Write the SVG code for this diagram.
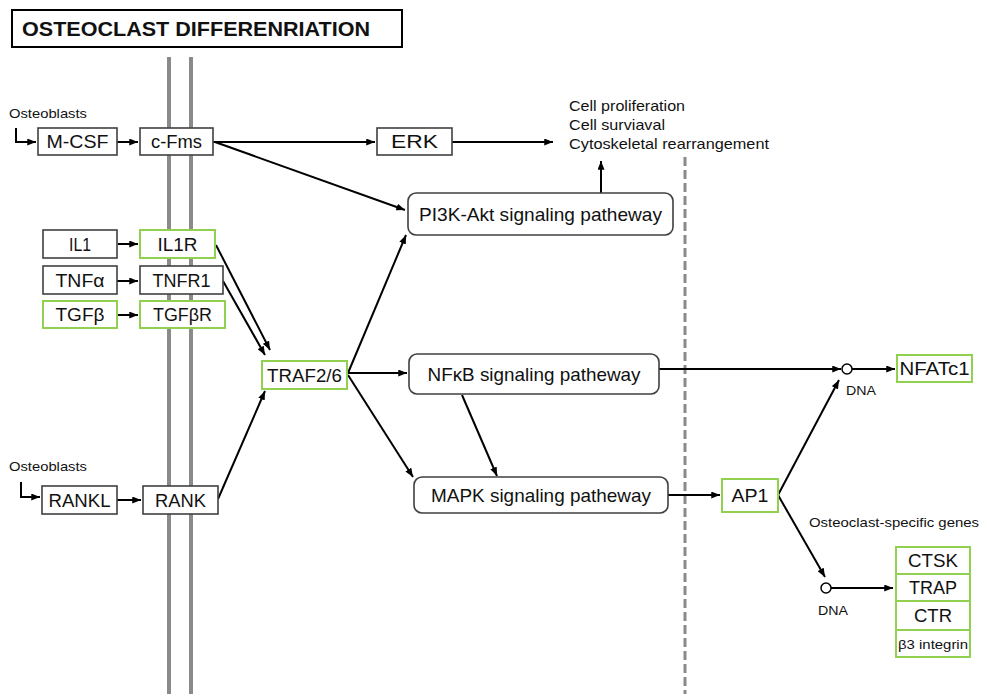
<svg xmlns="http://www.w3.org/2000/svg" width="981" height="694" viewBox="0 0 981 694">
<style>
text{font-family:"Liberation Sans",Arial,sans-serif;fill:#111}
.lbl{font-size:18px;text-anchor:middle}
.pw{font-size:19px;text-anchor:middle}
.sm{font-size:13.5px}
.box{fill:#fff;stroke:#404040;stroke-width:1.6}
.gbox{fill:#fff;stroke:#92d050;stroke-width:2}
.rbox{fill:#fff;stroke:#404040;stroke-width:1.6}
.mem{stroke:#8a8a8a;stroke-width:4}
.ed{fill:none;stroke:#000;stroke-width:2;marker-end:url(#ah)}
</style>
<defs>
<marker id="ah" viewBox="0 0 10 8" refX="10" refY="4" markerWidth="9" markerHeight="7" orient="auto" markerUnits="userSpaceOnUse"><path d="M0,0 L10,4 L0,8 z" fill="#000"/></marker>
</defs>
<rect width="981" height="694" fill="#fff"/>
<g id="title">
<rect x="12" y="10" width="390" height="37" fill="#fff" stroke="#000" stroke-width="2"/>
<text x="22" y="36" font-size="21" font-weight="bold" textLength="348" lengthAdjust="spacingAndGlyphs">OSTEOCLAST DIFFERENRIATION</text>
</g>
<g id="membrane">
<line class="mem" x1="169" y1="57" x2="169" y2="694"/>
<line class="mem" x1="191" y1="57" x2="191" y2="694"/>
<line x1="685" y1="157" x2="685" y2="694" stroke="#8a8a8a" stroke-width="3" stroke-dasharray="9,4"/>
</g>
<g id="connectors">
<path class="ed" d="M16,128 V142 H36"/>
<path class="ed" d="M117,142 H138"/>
<path class="ed" d="M213,142 H375"/>
<path class="ed" d="M452,142 H553"/>
<path class="ed" d="M215,142 L405,210"/>
<path class="ed" d="M601,193 V161"/>
<path class="ed" d="M118,244 H138"/>
<path class="ed" d="M117,281 H138"/>
<path class="ed" d="M118,315 H138"/>
<path class="ed" d="M216,245 L270,350"/>
<path class="ed" d="M223,281 L265,355"/>
<path class="ed" d="M21,482 V497 H40"/>
<path class="ed" d="M117,500 H141"/>
<path class="ed" d="M218,499 L265,391"/>
<path class="ed" d="M348,373 L406,235"/>
<path class="ed" d="M348,373 H407"/>
<path class="ed" d="M348,375 L413,477"/>
<path class="ed" d="M462,395 L497,476"/>
<path class="ed" d="M668,495 H720"/>
<path class="ed" d="M659,369 H841"/>
<path class="ed" d="M852,369 H895"/>
<path class="ed" d="M778,495 L839,380"/>
<path class="ed" d="M778,495 L825,577"/>
<path class="ed" d="M831,588 H893"/>
</g>
<g id="osteoblasts1"><text class="sm" x="9" y="118" textLength="78" lengthAdjust="spacingAndGlyphs">Osteoblasts</text></g>
<g id="mcsf"><rect class="box" x="38" y="128" width="79" height="27"/><text class="lbl" x="77.5" y="148" textLength="62" lengthAdjust="spacingAndGlyphs">M-CSF</text></g>
<g id="cfms"><rect class="box" x="140" y="128" width="73" height="27"/><text class="lbl" x="176.5" y="148" textLength="51" lengthAdjust="spacingAndGlyphs">c-Fms</text></g>
<g id="erk"><rect class="box" x="377" y="128" width="75" height="27"/><text class="lbl" x="414.5" y="148" textLength="47" lengthAdjust="spacingAndGlyphs">ERK</text></g>
<g id="outcomes">
<text x="569" y="111" font-size="15" textLength="116" lengthAdjust="spacingAndGlyphs">Cell proliferation</text>
<text x="569" y="130" font-size="15" textLength="96" lengthAdjust="spacingAndGlyphs">Cell surviaval</text>
<text x="569" y="149" font-size="15" textLength="200" lengthAdjust="spacingAndGlyphs">Cytoskeletal rearrangement</text>
</g>
<g id="pi3k"><rect class="rbox" x="408" y="193" width="265" height="42" rx="8"/><text class="pw" x="540.5" y="221" textLength="243" lengthAdjust="spacingAndGlyphs">PI3K-Akt signaling patheway</text></g>
<g id="il1"><rect class="box" x="43" y="230" width="74" height="28"/><text class="lbl" x="80" y="251" textLength="22" lengthAdjust="spacingAndGlyphs">IL1</text></g>
<g id="il1r"><rect class="gbox" x="140" y="230" width="75" height="28"/><text class="lbl" x="177.5" y="251" textLength="40" lengthAdjust="spacingAndGlyphs">IL1R</text></g>
<g id="tnfa"><rect class="box" x="43" y="266" width="74" height="28"/><text class="lbl" x="80" y="287" textLength="49" lengthAdjust="spacingAndGlyphs">TNFα</text></g>
<g id="tnfr1"><rect class="box" x="140" y="266" width="83" height="28"/><text class="lbl" x="181.5" y="287" textLength="58" lengthAdjust="spacingAndGlyphs">TNFR1</text></g>
<g id="tgfb"><rect class="gbox" x="43" y="301" width="74" height="27"/><text class="lbl" x="80" y="321" textLength="49" lengthAdjust="spacingAndGlyphs">TGFβ</text></g>
<g id="tgfbr"><rect class="gbox" x="140" y="301" width="85" height="27"/><text class="lbl" x="182.5" y="321" textLength="59" lengthAdjust="spacingAndGlyphs">TGFβR</text></g>
<g id="traf"><rect class="gbox" x="262" y="361" width="85" height="28"/><text class="lbl" x="304.5" y="382" textLength="75" lengthAdjust="spacingAndGlyphs">TRAF2/6</text></g>
<g id="osteoblasts2"><text class="sm" x="9" y="471" textLength="78" lengthAdjust="spacingAndGlyphs">Osteoblasts</text></g>
<g id="rankl"><rect class="box" x="42" y="486" width="75" height="28"/><text class="lbl" x="79.5" y="507" textLength="62" lengthAdjust="spacingAndGlyphs">RANKL</text></g>
<g id="rank"><rect class="box" x="143" y="486" width="75" height="28"/><text class="lbl" x="180.5" y="507" textLength="51" lengthAdjust="spacingAndGlyphs">RANK</text></g>
<g id="nfkb"><rect class="rbox" x="409" y="354" width="250" height="40" rx="8"/><text class="pw" x="534" y="381" textLength="213" lengthAdjust="spacingAndGlyphs">NFκB signaling patheway</text></g>
<g id="mapk"><rect class="rbox" x="414" y="477" width="254" height="36" rx="8"/><text class="pw" x="541" y="502" textLength="220" lengthAdjust="spacingAndGlyphs">MAPK signaling patheway</text></g>
<g id="ap1"><rect class="gbox" x="722" y="479" width="56" height="33"/><text class="lbl" x="750" y="502" textLength="37" lengthAdjust="spacingAndGlyphs">AP1</text></g>
<g id="dna1"><circle cx="847" cy="369" r="5" fill="#fff" stroke="#000" stroke-width="1.5"/><text x="846" y="395" font-size="12.5" textLength="30" lengthAdjust="spacingAndGlyphs">DNA</text></g>
<g id="nfatc1"><rect class="gbox" x="897" y="355" width="75" height="27"/><text class="lbl" x="934.5" y="375" textLength="70" lengthAdjust="spacingAndGlyphs">NFATc1</text></g>
<g id="genes-label"><text class="sm" x="809" y="527" textLength="170" lengthAdjust="spacingAndGlyphs">Osteoclast-specific genes</text></g>
<g id="dna2"><circle cx="826" cy="588" r="5" fill="#fff" stroke="#000" stroke-width="1.5"/><text x="818" y="615" font-size="12.5" textLength="30" lengthAdjust="spacingAndGlyphs">DNA</text></g>
<g id="ctsk"><rect class="gbox" x="896" y="547" width="74" height="27"/><text class="lbl" x="933" y="567" textLength="50" lengthAdjust="spacingAndGlyphs">CTSK</text></g>
<g id="trap"><rect class="gbox" x="896" y="574" width="74" height="27"/><text class="lbl" x="933" y="594" textLength="48" lengthAdjust="spacingAndGlyphs">TRAP</text></g>
<g id="ctr"><rect class="gbox" x="896" y="601" width="74" height="29"/><text class="lbl" x="933" y="622" textLength="38" lengthAdjust="spacingAndGlyphs">CTR</text></g>
<g id="b3integrin"><rect class="gbox" x="896" y="630" width="74" height="27"/><text x="933" y="649" font-size="13.5" text-anchor="middle" textLength="70" lengthAdjust="spacingAndGlyphs">β3 integrin</text></g>
</svg>
